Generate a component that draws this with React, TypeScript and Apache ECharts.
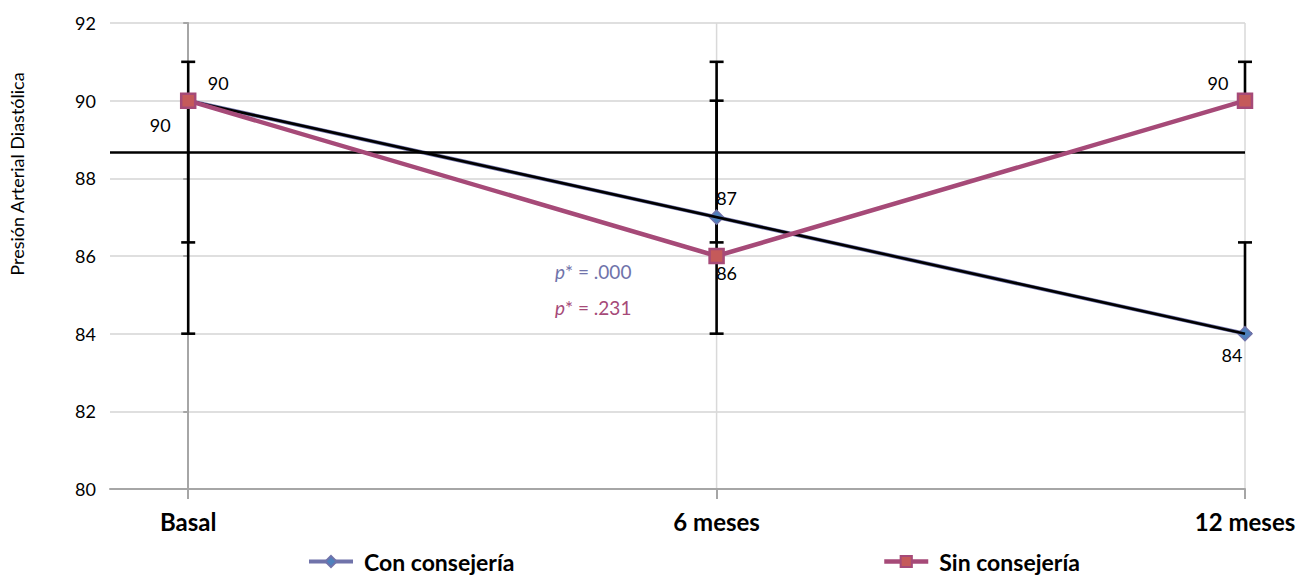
import React, { useEffect, useRef } from "react";
import * as echarts from "echarts";

const categories = ["Basal", "6 meses", "12 meses"];
const conValues = [90, 87, 84];
const sinValues = [90, 86, 90];
const conErrLow = [84, 84, 84];
const conErrHigh = [91, 90, 86.35];
const sinErrLow = [86.35, 86.35, 90];
const sinErrHigh = [90, 91, 91];
const yMin = 80;
const yMax = 92;
const yStep = 2;
const xMin = -0.148;
const xMax = 2;
const pLabels = ["p* = .000", "p* = .231"];
const seriesNames = ["Con consejería", "Sin consejería"];
const yTitle = "Presión Arterial Diastólica";

const FONT = "Lato, 'Open Sans', sans-serif";
const CON_LINE = "#7073AA";
const CON_FILL = "#4F81BD";
const SIN_LINE = "#A64A78";
const SIN_FILL = "#C55A5A";

function fit(vals: number[]) {
  const n = vals.length;
  const xs = vals.map((_, i) => i);
  const mx = xs.reduce((a, b) => a + b, 0) / n;
  const my = vals.reduce((a, b) => a + b, 0) / n;
  let num = 0;
  let den = 0;
  xs.forEach((x, i) => {
    num += (x - mx) * (vals[i] - my);
    den += (x - mx) * (x - mx);
  });
  const slope = num / den;
  return { slope, intercept: my - slope * mx };
}

export default function App() {
  const ref = useRef<HTMLDivElement>(null);
  useEffect(() => {
    document.body.style.margin = "0";
    const chart = echarts.init(ref.current!, null, { renderer: "svg" });
    const conFit = fit(conValues);
    const sinFit = fit(sinValues);
    const conTrend = [0, 2].map((x) => [x, conFit.intercept + conFit.slope * x]);
    const sinTrend = [xMin, xMax].map((x) => [x, sinFit.intercept + sinFit.slope * x]);

    const errData: number[][] = [];
    categories.forEach((_, i) => {
      errData.push([i, conErrLow[i], conErrHigh[i]]);
      errData.push([i, sinErrLow[i], sinErrHigh[i]]);
    });

    const conOffsets = [[30, -18], [10, -19], [-13, 21]];
    const sinOffsets = [[-28, 24], [10, 17], [-27, -18]];

    const labelStyle = { color: "#000", fontSize: 18, fontFamily: FONT };
    const legendText = { fontFamily: FONT, fontWeight: "bold", fontSize: 23, color: "#000", padding: [0, 0, 0, 6] };

    const option: any = {
      animation: false,
      grid: { left: 110, right: 54, top: 23, bottom: 87 },
      xAxis: {
        type: "value",
        min: xMin,
        max: xMax,
        axisLine: { show: true, lineStyle: { color: "#A6A6A6", width: 2 } },
        axisTick: { show: true, customValues: [0, 1, 2], length: 10, lineStyle: { color: "#A6A6A6", width: 2 } },
        axisLabel: {
          customValues: [0, 1, 2],
          formatter: (v: number) => categories[Math.round(v)] ?? "",
          fontFamily: FONT,
          fontWeight: "bold",
          fontSize: 24,
          color: "#000",
          margin: 20,
        },
        splitLine: { show: false },
      },
      yAxis: {
        type: "value",
        min: yMin,
        max: yMax,
        interval: yStep,
        axisLine: { show: true, lineStyle: { color: "#A6A6A6", width: 2 } },
        axisTick: { show: true, length: 5, lineStyle: { color: "#A6A6A6", width: 2 } },
        axisLabel: { fontFamily: FONT, fontSize: 18, color: "#000", margin: 14 },
        splitLine: { show: true, lineStyle: { color: "#D4D4D4", width: 1.5 } },
      },
      legend: [
        {
          data: [seriesNames[0]],
          left: 302,
          top: 545,
          itemWidth: 44,
          itemHeight: 14,
          lineStyle: { width: 4 },
          textStyle: legendText,
        },
        {
          data: [seriesNames[1]],
          left: 877,
          top: 545,
          itemWidth: 44,
          itemHeight: 14,
          lineStyle: { width: 4.5 },
          textStyle: legendText,
        },
      ],
      graphic: [
        {
          type: "text",
          x: 17,
          y: 174,
          rotation: Math.PI / 2,
          style: {
            text: yTitle,
            fontFamily: FONT,
            fontSize: 18,
            fill: "#000",
            align: "center",
            verticalAlign: "middle",
          },
        },
        {
          type: "text",
          left: 555,
          top: 262,
          style: {
            text: "{i|p}" + pLabels[0].slice(1),
            fontFamily: FONT,
            fontSize: 19,
            fill: CON_LINE,
            rich: { i: { fontStyle: "italic", fontFamily: FONT, fontSize: 19, fill: CON_LINE } },
          },
        },
        {
          type: "text",
          left: 555,
          top: 298,
          style: {
            text: "{i|p}" + pLabels[1].slice(1),
            fontFamily: FONT,
            fontSize: 19,
            fill: SIN_LINE,
            rich: { i: { fontStyle: "italic", fontFamily: FONT, fontSize: 19, fill: SIN_LINE } },
          },
        },
      ],
      series: [
        {
          type: "custom",
          z: 0,
          silent: true,
          data: categories.map((_, i) => [i]),
          renderItem: (params: any, api: any) => {
            const x = api.value(0);
            const top = api.coord([x, yMax]);
            const bot = api.coord([x, yMin]);
            return {
              type: "line",
              shape: { x1: top[0], y1: top[1], x2: bot[0], y2: bot[1] },
              style: { stroke: "#D9D9D9", lineWidth: 1.5 },
            };
          },
        },
        {
          type: "custom",
          z: 1,
          silent: true,
          data: errData,
          renderItem: (params: any, api: any) => {
            const x = api.value(0);
            const lo = api.coord([x, api.value(1)]);
            const hi = api.coord([x, api.value(2)]);
            const cap = 7;
            const style = { stroke: "#000", lineWidth: 2.6 };
            return {
              type: "group",
              children: [
                { type: "line", shape: { x1: lo[0], y1: lo[1], x2: hi[0], y2: hi[1] }, style },
                { type: "line", shape: { x1: lo[0] - cap, y1: lo[1], x2: lo[0] + cap, y2: lo[1] }, style },
                { type: "line", shape: { x1: hi[0] - cap, y1: hi[1], x2: hi[0] + cap, y2: hi[1] }, style },
              ],
            };
          },
        },
        {
          name: seriesNames[1],
          type: "line",
          z: 3,
          data: sinValues.map((v, i) => ({
            value: [i, v],
            label: {
              show: true,
              position: "inside",
              offset: sinOffsets[i],
              formatter: String(v),
              ...labelStyle,
            },
          })),
          symbol: "rect",
          symbolSize: 14,
          lineStyle: { color: SIN_LINE, width: 4.5 },
          itemStyle: { color: SIN_FILL, borderColor: SIN_LINE, borderWidth: 2.5 },
        },
        {
          name: seriesNames[0],
          type: "line",
          z: 2,
          data: conValues.map((v, i) => ({
            value: [i, v],
            label: {
              show: true,
              position: "inside",
              offset: conOffsets[i],
              formatter: String(v),
              ...labelStyle,
            },
          })),
          symbol: "diamond",
          symbolSize: 14,
          lineStyle: { color: CON_LINE, width: 4 },
          itemStyle: { color: CON_FILL, borderColor: CON_LINE, borderWidth: 1.5 },
        },
        {
          type: "line",
          z: 2.5,
          data: conTrend,
          symbol: "none",
          silent: true,
          lineStyle: { color: "#000", width: 2.6 },
        },
        {
          type: "line",
          z: 2.5,
          data: sinTrend,
          symbol: "none",
          silent: true,
          lineStyle: { color: "#000", width: 2.6 },
        },
      ],
    };
    chart.setOption(option);
    return () => chart.dispose();
  }, []);
  return <div ref={ref} style={{ width: 1299, height: 576 }} />;
}
